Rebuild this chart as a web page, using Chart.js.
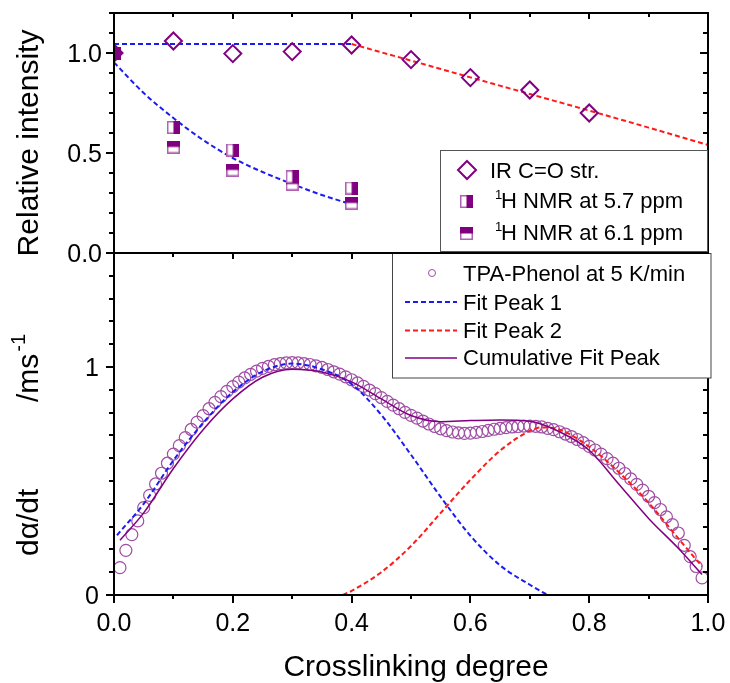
<!DOCTYPE html>
<html>
<head>
<meta charset="utf-8">
<title>Crosslinking degree</title>
<script src="https://cdn.jsdelivr.net/npm/chart.js@4.4.1/dist/chart.umd.min.js"></script>
<style>
  html, body { margin:0; padding:0; background:#ffffff; }
  #wrap { position:relative; width:730px; height:683px; overflow:hidden; }
  #wrap canvas { position:absolute; left:0; top:0; }
</style>
</head>
<body>
<div id="wrap">
  <canvas id="bottomChart" width="730" height="683"></canvas>
  <canvas id="topChart" width="730" height="683"></canvas>
</div>
<script>
// ---------------- upper panel data ----------------
const irX    = [0.0, 0.1, 0.2, 0.3, 0.4, 0.5, 0.6, 0.7, 0.8];
const irY    = [1.0, 1.06, 0.997, 1.007, 1.04, 0.967, 0.877, 0.815, 0.70];
const nmrX   = [0.0, 0.1, 0.2, 0.3, 0.4];
const nmr57Y = [1.0, 0.628, 0.515, 0.381, 0.325];
const nmr61Y = [1.0, 0.530, 0.415, 0.345, 0.250];
const irFlatX = [0.0, 0.4];
const irFlatY = [1.045, 1.045];
const irDropX = [0.4, 0.5, 0.6, 0.7, 0.8, 0.9, 1.0];
const irDropY = [1.045, 0.962, 0.878, 0.795, 0.712, 0.627, 0.54];
const nmrFitX = [0.0, 0.05, 0.1, 0.15, 0.2, 0.25, 0.3, 0.35, 0.4];
const nmrFitY = [0.953, 0.80, 0.675, 0.565, 0.475, 0.405, 0.345, 0.29, 0.243];

// ---------------- lower panel data ----------------
const dscX = [0.01,0.02,0.03,0.04,0.05,0.06,0.07,0.08,0.09,0.10,
              0.11,0.12,0.13,0.14,0.15,0.16,0.17,0.18,0.19,0.20,
              0.21,0.22,0.23,0.24,0.25,0.26,0.27,0.28,0.29,0.30,
              0.31,0.32,0.33,0.34,0.35,0.36,0.37,0.38,0.39,0.40,
              0.41,0.42,0.43,0.44,0.45,0.46,0.47,0.48,0.49,0.50,
              0.51,0.52,0.53,0.54,0.55,0.56,0.57,0.58,0.59,0.60,
              0.61,0.62,0.63,0.64,0.65,0.66,0.67,0.68,0.69,0.70,
              0.71,0.72,0.73,0.74,0.75,0.76,0.77,0.78,0.79,0.80,
              0.81,0.82,0.83,0.84,0.85,0.86,0.87,0.88,0.89,0.90,
              0.91,0.92,0.93,0.94,0.95,0.96,0.97,0.98,0.99];
const dscY = [0.120,0.196,0.265,0.325,0.383,0.437,0.487,0.534,0.578,0.618,
              0.655,0.690,0.726,0.758,0.787,0.817,0.845,0.870,0.893,0.914,
              0.934,0.952,0.968,0.982,0.994,1.003,1.010,1.015,1.018,1.019,
              1.018,1.015,1.011,1.005,0.998,0.989,0.979,0.969,0.957,0.944,
              0.930,0.915,0.899,0.883,0.866,0.849,0.833,0.817,0.801,0.788,
              0.776,0.763,0.750,0.739,0.729,0.721,0.715,0.711,0.709,0.710,
              0.713,0.717,0.722,0.727,0.731,0.734,0.737,0.739,0.741,0.741,
              0.740,0.737,0.731,0.725,0.716,0.706,0.695,0.682,0.668,0.652,
              0.636,0.618,0.598,0.578,0.556,0.533,0.509,0.485,0.460,0.433,
              0.405,0.375,0.343,0.309,0.272,0.218,0.168,0.125,0.075];
const peak1X = [0.005, 0.05, 0.1, 0.15, 0.2, 0.25, 0.3, 0.35, 0.4, 0.45, 0.5, 0.55, 0.6, 0.65, 0.7, 0.73];
const peak1Y = [0.262, 0.40, 0.59, 0.755, 0.89, 0.98, 1.015, 0.99, 0.925, 0.79, 0.615, 0.43, 0.26, 0.13, 0.045, 0.0];
const peak2X = [0.385, 0.4, 0.45, 0.5, 0.55, 0.6, 0.65, 0.7, 0.72, 0.75, 0.8, 0.85, 0.9, 0.95, 0.99];
const peak2Y = [0.0, 0.018, 0.10, 0.215, 0.36, 0.505, 0.633, 0.72, 0.735, 0.725, 0.65, 0.538, 0.405, 0.248, 0.125];
const cumX = [0.01, 0.05, 0.1, 0.15, 0.2, 0.25, 0.3, 0.35, 0.4, 0.45, 0.5, 0.55, 0.6, 0.65, 0.7, 0.75, 0.8, 0.85, 0.9, 0.95, 0.99];
const cumY = [0.24, 0.36, 0.555, 0.725, 0.86, 0.955, 0.99, 0.978, 0.935, 0.86, 0.787, 0.76, 0.765, 0.768, 0.762, 0.716, 0.635, 0.486, 0.336, 0.205, 0.09];

// ---------------- ticks & texts ----------------
const xTicks    = [0.0, 0.2, 0.4, 0.6, 0.8, 1.0];
const topYTicks = [0.0, 0.5, 1.0];
const botYTicks = [0, 1];
const xTitle    = 'Crosslinking degree';
const topYTitle = 'Relative intensity';

const FONT   = "'Liberation Sans', Arial, Helvetica, sans-serif";
const PURPLE = '#800080';
const CIRCLE = '#9e4ea4';
const BLUE   = '#1c1cf2';
const RED    = '#ff1a1a';
const DASH   = [5, 3];

const pts = (xs, ys) => xs.map((x, i) => ({x: x, y: ys[i]}));
function seg(ctx, x1, y1, x2, y2) { ctx.beginPath(); ctx.moveTo(x1, y1); ctx.lineTo(x2, y2); ctx.stroke(); }
function steps(min, max, step) { const o = []; const n = Math.round((max - min) / step); for (let i = 0; i <= n; i++) o.push(+(min + i * step).toFixed(4)); return o; }
function isMult(v, m) { return Math.abs(v / m - Math.round(v / m)) < 1e-6; }

function halfSquare(kind) {
  const c = document.createElement('canvas'); c.width = 13; c.height = 13;
  const g = c.getContext('2d');
  g.fillStyle = '#ffffff'; g.fillRect(0, 0, 13, 13);
  g.strokeStyle = '#b060b0'; g.lineWidth = 1.5; g.strokeRect(0.75, 0.75, 11.5, 11.5);
  g.fillStyle = PURPLE;
  if (kind === 'right') g.fillRect(6.5, 0, 6.5, 13); else g.fillRect(0, 0, 13, 6.5);
  return c;
}
const img57 = halfSquare('right');
const img61 = halfSquare('top');

function drawSup(ctx, sup, main, x, baseline) {
  ctx.font = '13px ' + FONT; ctx.fillText(sup, x, baseline - 9);
  ctx.font = '22px ' + FONT; ctx.fillText(main, x + 6, baseline);
}

// ---------------- decoration plugins ----------------
const topDeco = {
  id: 'topDeco',
  afterDraw(chart) {
    const {ctx, chartArea: a, scales: {x, y}} = chart;
    const ds = chart.data.datasets;
    ctx.save();
    ctx.strokeStyle = '#000'; ctx.lineWidth = 2;
    for (const v of steps(0, 1.2, 0.1)) {
      const py = Math.round(y.getPixelForValue(v));
      const L = isMult(v, 0.5) ? 8 : 5;
      seg(ctx, a.left - L, py, a.left, py);
      seg(ctx, a.right, py, a.right - L, py);
    }
    for (const v of steps(0, 1, 0.1)) {
      const px = Math.round(x.getPixelForValue(v));
      seg(ctx, px, a.top, px, a.top + (isMult(v, 0.2) ? 6 : 4));
    }
    ctx.strokeRect(a.left, a.top, a.right - a.left, a.bottom - a.top);
    // tick labels
    ctx.fillStyle = '#000'; ctx.font = '25px ' + FONT; ctx.textAlign = 'right'; ctx.textBaseline = 'alphabetic';
    for (const v of topYTicks) ctx.fillText(v.toFixed(1), 102, y.getPixelForValue(v) + 9);
    // title
    ctx.save(); ctx.translate(38, 143); ctx.rotate(-Math.PI / 2);
    ctx.font = '30px ' + FONT; ctx.textAlign = 'center'; ctx.fillText(topYTitle, 0, 0); ctx.restore();
    // legend
    ctx.fillStyle = '#fff'; ctx.fillRect(441, 151, 266, 100);
    ctx.strokeStyle = '#555'; ctx.lineWidth = 1; ctx.strokeRect(440.5, 150.5, 267, 101);
    ctx.strokeStyle = PURPLE; ctx.lineWidth = 2;
    ctx.beginPath(); ctx.moveTo(467, 161); ctx.lineTo(476, 170); ctx.lineTo(467, 179); ctx.lineTo(458, 170); ctx.closePath(); ctx.stroke();
    ctx.fillStyle = '#000'; ctx.textAlign = 'left'; ctx.font = '22px ' + FONT;
    ctx.fillText(ds[2].label, 490, 178);
    ctx.drawImage(img57, 460, 195);
    drawSup(ctx, '1', 'H NMR at 5.7 ppm', 495, 208);
    ctx.drawImage(img61, 460, 227);
    drawSup(ctx, '1', 'H NMR at 6.1 ppm', 495, 240);
    ctx.restore();
  }
};

const botDeco = {
  id: 'botDeco',
  afterDraw(chart) {
    const {ctx, chartArea: a, scales: {x, y}} = chart;
    const ds = chart.data.datasets;
    ctx.save();
    ctx.strokeStyle = '#000'; ctx.lineWidth = 2;
    for (const v of steps(0, 1.5, 0.1)) {
      const py = Math.round(y.getPixelForValue(v));
      const L = isMult(v, 1) ? 8 : 5;
      seg(ctx, a.left - L, py, a.left, py);
      seg(ctx, a.right, py, a.right - L, py);
    }
    for (const v of steps(0, 1, 0.1)) {
      const px = Math.round(x.getPixelForValue(v));
      seg(ctx, px, a.bottom, px, a.bottom + (isMult(v, 0.2) ? 8 : 4));
      seg(ctx, px, a.top, px, a.top + (isMult(v, 0.2) ? 6 : 4));
    }
    ctx.strokeRect(a.left, a.top, a.right - a.left, a.bottom - a.top);
    ctx.fillStyle = '#000'; ctx.font = '25px ' + FONT; ctx.textBaseline = 'alphabetic';
    ctx.textAlign = 'right';
    for (const v of botYTicks) ctx.fillText(String(v), 99, y.getPixelForValue(v) + 9);
    ctx.textAlign = 'center';
    for (const v of xTicks) ctx.fillText(v.toFixed(1), x.getPixelForValue(v), 631);
    // titles
    ctx.font = '30px ' + FONT;
    ctx.fillText(xTitle, 416, 676);
    ctx.save(); ctx.translate(38, 556); ctx.rotate(-Math.PI / 2); ctx.textAlign = 'left';
    ctx.fillText('d\u03b1/dt', 0, 0);
    ctx.fillText('/ms', 154, 0);
    const w = ctx.measureText('/ms').width;
    ctx.font = '20px ' + FONT; ctx.fillText('-1', 154 + w + 2, -13);
    ctx.restore();
    // legend
    ctx.fillStyle = '#fff'; ctx.fillRect(393, 254, 318, 124);
    ctx.strokeStyle = '#444'; ctx.lineWidth = 1; ctx.strokeRect(392.5, 253.5, 318.5, 124.5);
    ctx.strokeStyle = CIRCLE; ctx.lineWidth = 1;
    ctx.beginPath(); ctx.arc(432, 273, 3.5, 0, 2 * Math.PI); ctx.stroke();
    ctx.fillStyle = '#000'; ctx.font = '22px ' + FONT; ctx.textAlign = 'left';
    ctx.fillText(ds[3].label, 463, 281);
    ctx.lineWidth = 2; ctx.setLineDash(DASH);
    ctx.strokeStyle = BLUE; seg(ctx, 405, 302, 457, 302);
    ctx.fillText(ds[1].label, 463, 310);
    ctx.strokeStyle = RED; seg(ctx, 405, 330.5, 457, 330.5);
    ctx.fillText(ds[2].label, 463, 338);
    ctx.setLineDash([]); ctx.strokeStyle = PURPLE; ctx.lineWidth = 1.5;
    seg(ctx, 405, 358, 457, 358);
    ctx.fillText(ds[0].label, 463, 365);
    ctx.restore();
  }
};

const common = {
  responsive: false, animation: false, events: [], devicePixelRatio: 1,
  plugins: { legend: { display: false }, tooltip: { enabled: false } }
};

new Chart(document.getElementById('topChart'), {
  type: 'scatter',
  data: { datasets: [
    { label: '1H NMR at 5.7 ppm', data: pts(nmrX, nmr57Y), pointStyle: img57, pointRadius: 6, clip: 0 },
    { label: '1H NMR at 6.1 ppm', data: pts(nmrX, nmr61Y), pointStyle: img61, pointRadius: 6, clip: 0 },
    { label: 'IR C=O str.', data: pts(irX, irY), pointStyle: 'rectRot', pointRadius: 8.5,
      borderColor: PURPLE, borderWidth: 2, backgroundColor: 'rgba(0,0,0,0)', clip: 0 },
    { type: 'line', label: 'IR fit 1', data: pts(irFlatX, irFlatY), borderColor: BLUE, borderWidth: 2, borderDash: DASH, pointRadius: 0, fill: false },
    { type: 'line', label: 'IR fit 2', data: pts(irDropX, irDropY), borderColor: RED, borderWidth: 2, borderDash: DASH, pointRadius: 0, fill: false, cubicInterpolationMode: 'monotone' },
    { type: 'line', label: 'NMR fit', data: pts(nmrFitX, nmrFitY), borderColor: BLUE, borderWidth: 2, borderDash: DASH, pointRadius: 0, fill: false, cubicInterpolationMode: 'monotone' }
  ]},
  options: Object.assign({}, common, {
    layout: { padding: { left: 114, right: 22, top: 13, bottom: 430 } },
    scales: {
      x: { type: 'linear', min: 0, max: 1, display: false },
      y: { type: 'linear', min: 0, max: 1.2, display: false }
    }
  }),
  plugins: [topDeco]
});

new Chart(document.getElementById('bottomChart'), {
  type: 'scatter',
  data: { datasets: [
    { type: 'line', label: 'Cumulative Fit Peak', data: pts(cumX, cumY), borderColor: PURPLE, borderWidth: 1.5, pointRadius: 0, fill: false, cubicInterpolationMode: 'monotone' },
    { type: 'line', label: 'Fit Peak 1', data: pts(peak1X, peak1Y), borderColor: BLUE, borderWidth: 2, borderDash: DASH, pointRadius: 0, fill: false, cubicInterpolationMode: 'monotone' },
    { type: 'line', label: 'Fit Peak 2', data: pts(peak2X, peak2Y), borderColor: RED, borderWidth: 2, borderDash: DASH, pointRadius: 0, fill: false, cubicInterpolationMode: 'monotone' },
    { label: 'TPA-Phenol at 5 K/min', data: pts(dscX, dscY), pointStyle: 'circle', pointRadius: 6,
      borderColor: CIRCLE, borderWidth: 1.2, backgroundColor: 'rgba(0,0,0,0)' }
  ]},
  options: Object.assign({}, common, {
    layout: { padding: { left: 114, right: 22, top: 253, bottom: 88 } },
    scales: {
      x: { type: 'linear', min: 0, max: 1, display: false },
      y: { type: 'linear', min: 0, max: 1.5, display: false }
    }
  }),
  plugins: [botDeco]
});
</script>
</body>
</html>
